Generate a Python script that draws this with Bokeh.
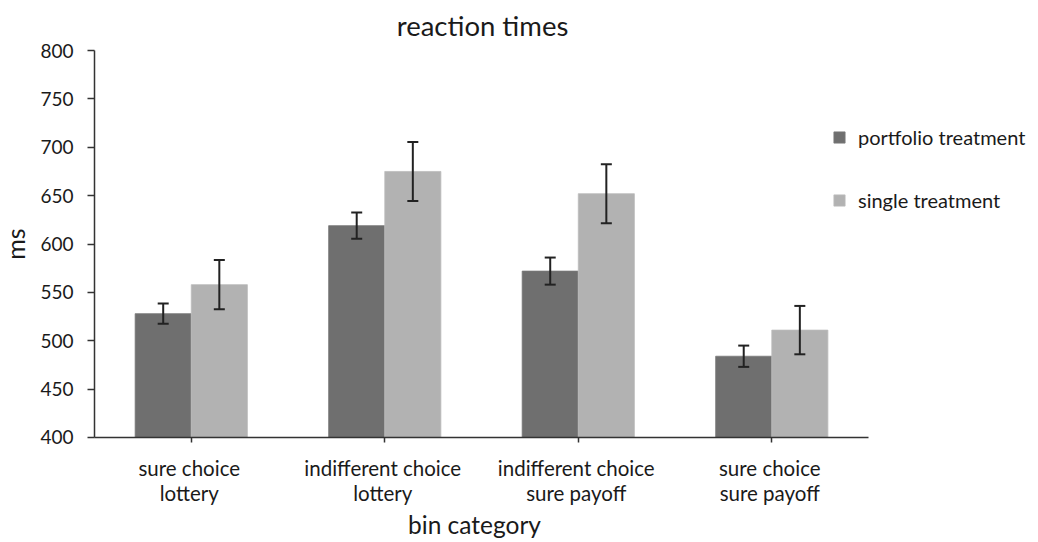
import math
from bokeh.plotting import figure
from bokeh.models import ColumnDataSource, Range1d, FixedTicker, Whisker, TeeHead, Legend, LegendItem
from bokeh.core.properties import value
from bokeh.transform import dodge
from bokeh.embed import file_html
from bokeh.resources import INLINE

categories = ["sure choice\nlottery", "indifferent choice\nlottery", "indifferent choice\nsure payoff", "sure choice\nsure payoff"]
portfolio = [528, 619, 572, 484]
portfolio_err = [10.5, 13.5, 14, 11]
single = [558, 675, 652, 511]
single_err = [25.5, 30.5, 30.5, 25]
series_names = ["portfolio treatment", "single treatment"]
y_ticks = [400, 450, 500, 550, 600, 650, 700, 750, 800]
x_title = "bin category"
y_title = "ms"
chart_title = "reaction times"

FONT = "Lato"
TXT = "#1a1a1a"
xs = list(range(1, len(categories) + 1))
base = y_ticks[0]
top = y_ticks[-1]
x_left = xs[0] - 0.5
x_mid = sum(xs) / len(xs)
src = ColumnDataSource(dict(
    x=xs,
    portfolio=portfolio,
    single=single,
    p_lo=[v - e for v, e in zip(portfolio, portfolio_err)],
    p_hi=[v + e for v, e in zip(portfolio, portfolio_err)],
    s_lo=[v - e for v, e in zip(single, single_err)],
    s_hi=[v + e for v, e in zip(single, single_err)],
    line1=[c.split("\n")[0] for c in categories],
    line2=[c.split("\n")[1] for c in categories],
    base=[base] * len(xs),
))
ysrc = ColumnDataSource(dict(y=y_ticks, x=[x_left] * len(y_ticks), t=[str(v) for v in y_ticks]))

# The frame fills the whole figure; both axes sit at fixed data locations
# (x = 0.5, y = 400) and all texts are drawn next to them.
p = figure(x_range=Range1d(0.0142, 5.368), y_range=Range1d(292.5, 851.7),
           width=1036, height=541, output_backend="svg", toolbar_location=None,
           min_border_left=0, min_border_right=0, min_border_top=0, min_border_bottom=0)
p.outline_line_color = None
p.xgrid.grid_line_color = None
p.ygrid.grid_line_color = None

W = 0.29
r1 = p.vbar(x=dodge("x", -W / 2), top="portfolio", bottom=base, width=W, source=src,
            fill_color="#6f6f6f", line_color="#787878", line_width=0.8)
r2 = p.vbar(x=dodge("x", W / 2), top="single", bottom=base, width=W, source=src,
            fill_color="#b2b2b2", line_color="#bdbdbd", line_width=0.8)

for xoff, lo, hi in [(-W / 2, "p_lo", "p_hi"), (W / 2, "s_lo", "s_hi")]:
    wk = Whisker(base=dodge("x", xoff), lower=lo, upper=hi, source=src, level="overlay",
                 line_color="#222222", line_width=2,
                 upper_head=TeeHead(size=11, line_color="#222222", line_width=2),
                 lower_head=TeeHead(size=11, line_color="#222222", line_width=2))
    p.add_layout(wk)

for ax in (p.xaxis[0], p.yaxis[0]):
    ax.axis_line_color = "#333333"
    ax.axis_line_width = 1.5
    ax.major_tick_line_color = "#333333"
    ax.major_tick_line_width = 1.5
    ax.minor_tick_line_color = None
    ax.major_label_text_font_size = "0px"
    ax.major_label_standoff = 0
    ax.major_tick_out = 0

p.yaxis.fixed_location = x_left
p.yaxis.bounds = (base, top)
p.yaxis.ticker = FixedTicker(ticks=y_ticks)
p.yaxis.major_label_overrides = {v: "" for v in y_ticks}
p.yaxis.major_tick_in = -7

p.xaxis.fixed_location = base
p.xaxis.bounds = (x_left, xs[-1] + 0.5)
p.xaxis.ticker = FixedTicker(ticks=xs)
p.xaxis.major_label_overrides = {x: "" for x in xs}
p.xaxis.major_tick_in = -5

# chart title
p.text(x=[x_mid], y=[top], text=[chart_title], x_offset=1, y_offset=-25,
       text_align="center", text_baseline="alphabetic", text_font=value(FONT),
       text_font_size="27.5px", text_color=TXT)
# y tick labels
p.text(x="x", y="y", text="t", source=ysrc, x_offset=-21, text_align="right",
       text_baseline="middle", text_font=value(FONT), text_font_size="19px", text_color=TXT)
# category labels (two lines)
lbl = dict(text_align="center", text_baseline="alphabetic", text_font=value(FONT),
           text_font_size="20.5px", text_color=TXT)
p.text(x="x", y="base", text="line1", source=src, x_offset=-2, y_offset=31, **lbl)
p.text(x="x", y="base", text="line2", source=src, x_offset=-2, y_offset=56, **lbl)
# axis titles
p.text(x=[x_mid], y=[base], text=[x_title], x_offset=-7, y_offset=87,
       text_align="center", text_baseline="alphabetic", text_font=value(FONT),
       text_font_size="24.5px", text_color=TXT)
p.text(x=[x_left], y=[sum(y_ticks) / len(y_ticks)], text=[y_title], x_offset=-80, angle=math.pi / 2,
       text_align="center", text_baseline="alphabetic", text_font=value(FONT),
       text_font_size="25px", text_color=TXT)

legend = Legend(items=[LegendItem(label=series_names[0], renderers=[r1]),
                       LegendItem(label=series_names[1], renderers=[r2])],
                location=(832, 329), orientation="vertical")
legend.border_line_color = None
legend.background_fill_alpha = 0
legend.padding = 0
legend.margin = 0
legend.spacing = 39
legend.glyph_width = 14
legend.glyph_height = 14
legend.label_height = 24
legend.label_standoff = 12
legend.label_text_font = FONT
legend.label_text_font_size = "20px"
legend.label_text_color = TXT
p.add_layout(legend, "center")

open("out.html", "w").write(file_html(p, INLINE))
